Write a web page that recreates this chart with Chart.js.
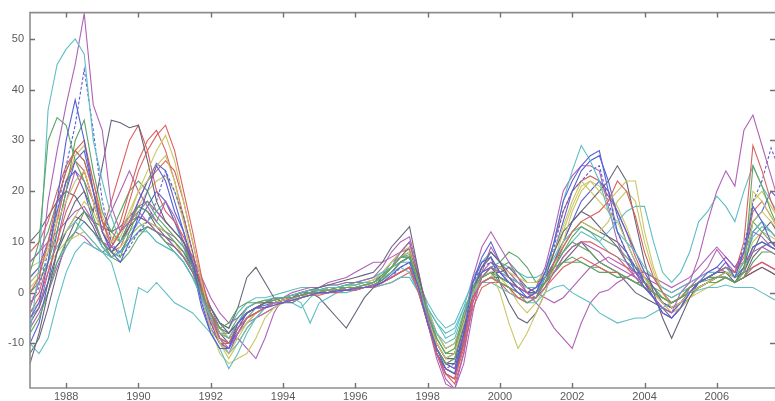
<!DOCTYPE html>
<html>
<head>
<meta charset="utf-8">
<script src="https://cdn.jsdelivr.net/npm/chart.js@4"></script>
<style>
  html, body { margin: 0; padding: 0; background: #fff; }
  canvas { display: block; }
</style>
</head>
<body>
<canvas id="chart" width="775" height="401"></canvas>
<script>
// quarterly observations, first one is 1987 Q1
const startYear = 1987;
const xTicks = [1988, 1990, 1992, 1994, 1996, 1998, 2000, 2002, 2004, 2006];
const yTicks = [-10, 0, 10, 20, 30, 40, 50];

// one group of 4 = one year, 1987 .. 2007
const s01 = [-5,-2,6,18, 30,38,30,20, 12,8,6,10, 15,20,25,22, 16,12,6,-2, -8,-11,-11,-6, -4,-3,-3,-2.5, -2,-1.5,-1,-0.5, 0,0,0.3,0.5, 0.8,1,1.2,2, 3.5,5,6,1, -6,-11,-15,-16, -8,2,6,7, 4,2,0,-1, 0,4,10,18, 22,25,27,28, 20,12,8,4, 1,-1,-4,-5, -3,0,2,3, 4,6,3,8, 17,14,10,8];
const s02 = [4,10,30,34.5, 33,26,22,15, 10,8,7,12, 16,18,15,13, 11,9,5,0, -4,-7,-6,-3, -2,-2,-1.5,-1.5, -1,-1,-0.5,0, 0,0.5,0.5,1, 1,1.5,2,3, 5,7,7.5,2, -4,-9,-12,-11, -4,1,3,4, 2,1,0,-2, -1,2,5,8, 10,9,8,6, 5,4,3,2, 1,0,-1,-2, -1,1,2,2.5, 3,3,2,4, 25,21,16,12];
const s03 = [0,3,10,18, 24,28,30,22, 14,9,12,18, 24,28,31,33, 28,20,12,3, -4,-9,-10,-7, -5,-4,-3,-2.5, -2,-1.5,-1,-0.5, -0.5,0,0,0.5, 0.5,1,1,2, 3,4,5,0, -6,-12,-16,-17, -10,-1,2,3, 2,1,0,-1, -1,2,6,9, 12,14,15,16, 18,22,20,15, 8,3,0,-2, -1,1,2,3, 4,5,4,10, 29,24,18,14];
const s04 = [-8,5,36,45, 48,50,47,30, 22,15,10,12, 14,12,10,9, 8,6,3,-1, -5,-8,-9,-6, -3,-2,-1.5,-1, -1,-0.5,0,0.5, 0.5,1,1,1.5, 1.5,2,2,3, 4,5,4,0, -4,-8,-10,-9, -4,0,2,3, 2,1,0,-1, 0,3,10,18, 24,29,26,22, 16,12,10,8, 5,3,0,-1, 0,1,2,3, 4,5,3,6, 12,14,12,10];
const s05 = [-3,2,18,28, 37,45,55,37, 32,17,12,14, 16,14,12,11, 9,7,4,0, -5,-9,-11,-8, -5,-4,-3,-2, -2,-1,-0.5,0, 0,0,0.5,0.5, 1,1,1.5,2, 3,4,5,1, -5,-12,-17,-19, -12,-2,3,5, 4,2,1,0, -1,1,4,7, 9,10,9,8, 6,5,4,3, 1,-1,-3,-4, 0,2,7,14, 20,24,21,32, 35,29,23,17];
const s06 = [2,4,8,14, 18,22,24,18, 12,10,11,15, 20,24,28,31, 26,18,10,2, -5,-10,-12,-9, -6,-4,-3,-2, -1.5,-1,-1,0, 0,0.5,0.5,1, 1,1.5,2,3, 5,7,8,2, -5,-10,-13,-12, -6,0,3,4, 0,-6,-11,-8, -4,0,5,10, 16,20,22,20, 18,20,22,22, 12,5,0,-3, -2,0,1,2, 3,4,3,6, 20,18,15,12];
const s07 = [-14,-8,0,8, 14,18,20,16, 25,34,33.5,32.5, 33,26,18,14, 12,10,6,0, -4,-7,-8,-6, -4,-3,-2,-2, -1.5,-1,0,0.5, 1,1.5,2,2.5, 3,3.5,4,6, 9,11,13,4, -5,-12,-15,-16, -10,0,5,8, 6,3,1,0, 0,3,8,12, 14,16,18,20, 22,25,22,14, 6,0,-5,-9, -5,-1,2,3, 4,4,2,5, 12,14,12,10];
const s08 = [-2,1,8,16, 25,33,44,32, 18,10,7,9, 12,14,18,24, 20,15,8,0, -6,-10,-11,-7, -4,-3,-3,-2, -2,-1,-0.5,0, 0,0,0.5,0.5, 0.5,1,1,2, 3,5,6,1, -6,-12,-15,-14, -6,2,5,6, 4,2,0,-1, 0,4,9,16, 20,22,24,25, 18,12,8,5, 2,-1,-3,-4, -2,0,2,3, 4,5,4,9, 18,22,28.5,24];
const s09 = [0,2,6,12, 20,30,34,24, 16,12,10,14, 17,16,14,12, 10,8,4,-1, -5,-8,-8,-5, -3,-2,-2,-1.5, -1,-0.5,0,0, 0.5,0.5,1,1, 1,1.5,1.5,2.5, 4,6,7,1, -5,-11,-14,-13, -6,1,3,4, 3,2,1,0, 0,2,4,6, 7,6,5,4, 4,3,3,2, 1,0,-1,-2, -1,0,1,2, 2,3,2,3, 6,8,8,7];
const s10 = [-4,-1,4,10, 16,20,24,18, 12,18,24,30, 33,28,20,16, 14,11,7,1, -4,-8,-9,-6, -4,-3,-2,-1.5, -1,-1,-0.5,0, 0,0.5,0.5,1, 1,1,1.5,2, 3,4,5,0, -6,-12,-16,-17, -11,-3,1,2, 2,1,-1,-2, -1,1,3,5, 6,7,6,5, 4,4,3,2, 1,0,-1,-2, -1,0,1,2, 3,3,2,3, 5,6,5,4];
const s11 = [-10,-12,-9,-2, 4,8,10,9, 8,6,0,-7.5, 1,0,2,0, -2,-3,-4,-6, -8,-11,-15,-12, -8,-5,-3,-2, -2,-1,-2,-6, -2,-1,0,0, 0.5,1,1,1.5, 2,3,3,0, -3,-6,-8,-7, -3,0,2,2, 1,0,-1,-2, -2,0,1,1.5, 0,-1,-2,-4, -5,-6,-5.5,-5, -5,-4,-3,-2, -1,0,0.5,1, 1,1.5,1,1, 1,0,-1,-2];
const s12 = [6,8,10,12, 14,16,17,14, 10,9,12,15, 17,18,16,14, 12,10,7,3, -1,-4,-6,-5, -3,-2,-2,-1, -1,0,0.5,1, 1,1.5,1.5,2, 2,2.5,3,5, 8,10,11,4, -4,-10,-13,-12, -6,3,9,12, 9,6,3,0, -2,-4,-7,-9, -11,-6,-2,0, 0.5,2,3,4, 4,3,2,1, 2,3,5,7, 9,7,5,6, 8,9,8,7];
const s13 = [5,6,8,10, 12,15,18,16, 12,10,12,16, 20,22,25,27, 22,14,6,-1, -7,-12,-14,-13, -12,-9,-5,-3, -2,-1.5,-1,-0.5, 0,0,0.5,0.5, 1,1,1.5,2, 3,4,5,2, -3,-8,-11,-10, -5,0,2,3, 5,4,3,2, 2,4,8,13, 18,22,20,18, 16,14,10,6, 3,0,-2,-4, -3,-1,0,1, 2,3,2,4, 14,16,14,12];
const s14 = [-6,-3,2,8, 12,15,14,12, 10,8,10,13, 15,14,12,11, 9,7,4,0, -3,-6,-7,-3, 3,5,2,-1, -2,-2,-1,0, -1,-3,-5,-7, -4,-1,1,3, 5,7,8,3, -3,-8,-11,-10, -5,0,2,3, 3,2,1,0, 0,2,4,6, 8,10,8,6, 5,4,2,0, -1,-2,-3,-4, -2,0,1,2, 3,3,2,3, 4,5,4,3];
const s15 = [3,5,10,16, 22,24,20,14, 10,8,10,14, 18,22,25.5,24, 18,12,5,-3, -8,-11,-11,-7, -4,-3,-2.5,-2, -1.5,-1,-0.5,0, 0,0.5,0.5,1, 1,1,1.5,2.5, 4,6,7,1, -5,-11,-14,-15, -8,1,4,5, 3,2,1,0, 1,3,6,10, 14,18,20,22, 20,16,12,8, 4,1,-2,-3, -2,0,1,2, 3,4,3,5, 9,10,9,8];
const s16 = [-8,-5,0,6, 10,12,16,14, 10,7,6,8, 11,13,12,10, 8,6,3,-1, -5,-9,-10,-7, -5,-3,-2,-1, -1,-0.5,0,0.5, 0.5,1,1,1.5, 1.5,2,2,3, 5,7,7,2, -4,-9,-12,-12, -5,0,2,3, 5,6,4,2, 2,3,5,6, 6,6,5,5, 4,3,3,2, 2,1,0,-1, 0,1,2,3, 3,4,3,4, 14,12,10,8];
const s17 = [8,10,14,20, 25,28,26,20, 14,10,14,20, 26,30,32,28, 22,15,8,0, -6,-10,-10,-6, -3,-2,-2,-1, -1,-1,-0.5,0, 0,0,0.5,0.5, 0.5,1,1,1.5, 2,3,4,0, -5,-11,-14,-15, -9,-1,2,3, 2,0,-1,-1, 0,2,4,7, 9,10,10,9, 8,7,5,3, 2,0,-2,-3, -2,0,1,2, 2,3,2,3, 4,5,4,3];
const s18 = [2,4,6,9, 12,14,12,10, 8,7,8,10, 12,12,10,9, 8,6,3,0, -3,-6,-7,-4, -2,-1,-1,-0.5, 0,0.5,1,1, 1,1.5,1.5,2, 2,2.5,3,4, 5,6,6,2, -2,-5,-7,-6, -2,2,4,5, 4,3,2,1, 1,2,5,8, 10,12,11,10, 12,14,16,17, 17,10,4,2, 4,8,14,16, 19,17,14,20, 25,21,18,15];
const s19 = [-5,-3,4,10, 18,24,22,18, 12,16,20,24, 20,17,14,18, 15,10,5,-1, -6,-9,-10,-9, -11,-13,-9,-4, -1,-0.5,0,0, 0.5,0.5,1,1, 1,1.5,2,3, 5,8,10,3, -6,-13,-18,-19, -14,-4,4,9, 6,4,2,0, 1,5,12,20, 23,25,25,24, 17,10,6,3, 1,-1,-4,-5, -3,1,3,5, 8.5,6,4,8, 12,11,9,8];
const s20 = [1,3,5,8, 10,11,12,10, 8,7,9,11, 13,14,13,12, 10,7,4,0, -4,-7,-9,-8, -6,-4,-3,-2, -1.5,-1,-0.5,0, 0,0.5,1,1, 1.5,2,2.5,4, 6,8,9,3, -3,-9,-12,-11, -5,1,3,4, 5,4,2,1, 1,3,6,9, 12,14,13,12, 14,18,20,18, 10,4,0,-3, -2,0,1,2, 3,4,4,6, 10,12,11,10];
const s21 = [10,12,15,18, 20,19,16,14, 13,12,13,15, 17,16,13,11, 10,8,5,1, -3,-6,-8,-6, -4,-3,-2,-2, -1.5,-1,-0.5,0, 0,0.5,0.5,1, 1,1.5,2,3, 5,7,9,2, -5,-10,-13,-13, -7,0,3,4, 4,5,3,1, 0,2,6,10, 14,16,15,13, 11,9,6,4, 2,0,-2,-3, -2,0,1,2, 2,3,2,4, 8,12,14,11];
const s22 = [-10,-6,2,12, 20,26,28,20, 12,9,8,11, 14,17,20,18, 14,10,5,-1, -7,-10,-12,-8, -5,-4,-3,-2, -2,-1.5,-1,0, 0,0,0.5,1, 1,1,1.5,2, 3,4,5,0, -6,-12,-16,-17, -9,2,7,10, 6,3,1,-1, -1,3,8,14, 20,24,26,27, 22,15,10,6, 2,-1,-4,-5, -3,0,2,4, 5,7,5,8, 14,16,20,18];
const s23 = [6,8,12,18, 24,28,26,20, 14,12,16,20, 22,20,16,14, 12,10,6,1, -4,-7,-9,-6, -4,-3,-2,-1.5, -1,-0.5,0,0.5, 0.5,1,1,1.5, 2,2,2.5,3.5, 5,6,7,2, -4,-10,-13,-12, -6,0,3,5, 6,8,7,5, 2,3,5,8, 11,13,12,11, 10,9,7,5, 3,1,-1,-2, -1,1,2,3, 4,5,3,4, 9,10,9,8];
const s24 = [-2,0,6,14, 22,26,24,18, 12,8,9,13, 18,22,24,26, 24,18,10,2, -5,-10,-11,-8, -5,-4,-3,-2, -2,-1.5,-1,-0.5, 0,0,0.5,0.5, 1,1,1.5,2.5, 4,6,7,1, -6,-12,-16,-18, -12,-2,3,5, 4,3,2,1, 1,4,10,16, 20,22,23,22, 19,16,12,7, 3,0,-2,-3, -2,0,2,3, 4,5,4,7, 16,18,15,12];
const s25 = [-4,-2,2,6, 9,12,14,12, 9,7,8,11, 13,14,16,18, 14,9,4,-1, -5,-9,-12,-10, -7,-5,-3,-2, -1.5,-2,-3,-1, 0.5,1,1,1.5, 2,2.5,3,4, 6,7,7,2, -3,-6,-9,-8, -3,3,6,8, 6,5,4,3, 3,4,7,10, 12,13,12,10, 8,7,6,5, 4,3,1,0, 1,2,3,4, 4,5,4,6, 11,13,12,10];
const s26 = [-7,-4,0,5, 9,12,11,9, 8,9,12,14, 15,14,13,12, 11,9,6,2, -3,-7,-9,-8, -6,-5,-4,-3, -2,-1,-0.5,0, 1,2,2.5,3, 4,5,6,6, 7,8,8.5,2, -5,-12,-15,-16, -10,-1,4,6, 5,3,2,1, 0,-1,-2,-1, 1,3,5,6, 7,6,5,4, 3,2,1,0, 1,2,3,4, 5,4,3,4, 5,6,5,4];
const s27 = [3,5,9,15, 22,27,29,22, 15,11,10,13, 17,20,22,23, 20,14,8,1, -5,-10,-13,-10, -7,-5,-4,-3, -2,-1.5,-1,-0.5, 0,0,0.5,1, 1,1.5,2,3, 4,6,7,1, -5,-11,-14,-13, -7,1,4,5, 3,1,-2,-4, -2,1,6,12, 17,21,22,21, 19,17,13,8, 4,1,-2,-4, -3,-1,1,2, 3,4,3,5, 18,20,17,14];
const s28 = [-12,-9,-3,4, 10,14,16,13, 9,7,8,10, 12,13,12,10, 9,7,4,0, -4,-8,-10,-8, -6,-4,-3,-2, -1.5,-1,-0.5,0, 0,0.5,0.5,1, 1,1.5,2,3.5, 6,8,10,3, -4,-11,-14,-14, -8,1,5,7, 2,-2,-5,-6, -4,0,5,9, 12,14,13,12, 11,10,8,5, 2,-1,-3,-5, -3,-1,1,2, 3,3,2,3, 7,9,10,9];

const seriesList = [s01, s02, s03, s04, s05, s06, s07, s08, s09, s10, s11, s12, s13, s14,
                    s15, s16, s17, s18, s19, s20, s21, s22, s23, s24, s25, s26, s27, s28];

// matlab-ish colour order, washed out like the scan
const lineColors = ["#5860d4", "#5ea464", "#d9605e", "#5fbec3", "#b062b6", "#cbc664", "#65657a"];
const dashedSeries = [7];

const quarters = s01.map((_, i) => startYear + i / 4);

const framePlugin = {
  id: "frame",
  afterDraw(chart) {
    const { ctx, chartArea } = chart;
    const { left, right, top, bottom } = chartArea;
    const xs = chart.scales.x, ys = chart.scales.y;
    ctx.save();
    ctx.strokeStyle = "#8e8e8e";
    ctx.lineWidth = 1.6;
    ctx.beginPath();
    ctx.moveTo(right, top); ctx.lineTo(left, top);
    ctx.lineTo(left, bottom); ctx.lineTo(right, bottom);
    ctx.stroke();
    // inward ticks
    ctx.strokeStyle = "#707070";
    ctx.lineWidth = 1.4;
    ctx.beginPath();
    xTicks.forEach(v => {
      const px = Math.round(xs.getPixelForValue(v)) + 0.5;
      ctx.moveTo(px, bottom); ctx.lineTo(px, bottom - 5);
      ctx.moveTo(px, top); ctx.lineTo(px, top + 5);
    });
    yTicks.forEach(v => {
      const py = Math.round(ys.getPixelForValue(v)) + 0.5;
      ctx.moveTo(left, py); ctx.lineTo(left + 5, py);
      ctx.moveTo(right, py); ctx.lineTo(right - 5, py);
    });
    ctx.stroke();
    ctx.restore();
  }
};

new Chart(document.getElementById("chart"), {
  type: "line",
  data: {
    datasets: seriesList.map((vals, k) => ({
      data: vals.map((v, i) => ({ x: quarters[i], y: v })),
      borderColor: lineColors[k % lineColors.length],
      borderWidth: 1.1,
      borderDash: dashedSeries.includes(k) ? [3, 2] : [],
      pointRadius: 0,
      tension: 0,
      fill: false
    }))
  },
  options: {
    responsive: false,
    animation: false,
    events: [],
    layout: { padding: { top: 7, right: 0, left: 0, bottom: 0 } },
    plugins: { legend: { display: false }, tooltip: { enabled: false } },
    scales: {
      x: {
        type: "linear",
        min: 1987,
        max: 2007.61,
        grid: { display: false, drawTicks: false },
        border: { display: false },
        afterBuildTicks: s => { s.ticks = xTicks.map(v => ({ value: v })); },
        afterFit: s => { s.height = 13; },
        ticks: {
          padding: 2,
          maxRotation: 0,
          autoSkip: false,
          color: "#5a5a5a",
          font: { family: "Liberation Sans", size: 11 },
          callback: v => String(v)
        }
      },
      y: {
        min: -18.8,
        max: 55.2,
        grid: { display: false, drawTicks: false },
        border: { display: false },
        afterBuildTicks: s => { s.ticks = yTicks.map(v => ({ value: v })); },
        afterFit: s => { s.width = 30; },
        ticks: {
          padding: 6,
          color: "#5a5a5a",
          font: { family: "Liberation Sans", size: 11 },
          callback: v => String(v)
        }
      }
    }
  },
  plugins: [framePlugin]
});
</script>
</body>
</html>
